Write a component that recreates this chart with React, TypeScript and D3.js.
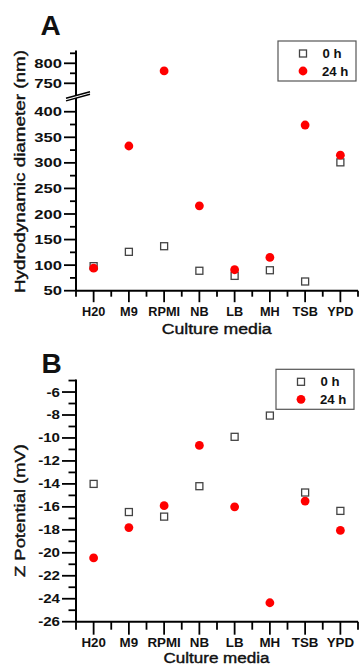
import React from "react";
import * as d3 from "d3";

const categories = ["H20", "M9", "RPMI", "NB", "LB", "MH", "TSB", "YPD"];
const diameter0h = [98, 126, 137, 89, 79, 90, 68, 301];
const diameter24h = [94, 333, 781, 216, 91, 115, 374, 315];
const zeta0h = [-14.0, -16.45, -16.85, -14.2, -9.9, -8.05, -14.75, -16.35];
const zeta24h = [-20.45, -17.8, -15.9, -10.65, -16.0, -24.35, -15.5, -18.05];
const diamLowTicks = [50, 100, 150, 200, 250, 300, 350, 400];
const diamLowMinor = [75, 125, 175, 225, 275, 325, 375];
const diamHighTicks = [750, 800];
const diamHighMinor = [775, 825];
const zetaTicks = [-26, -24, -22, -20, -18, -16, -14, -12, -10, -8, -6];
const zetaMinor = [-25, -23, -21, -19, -17, -15, -13, -11, -9, -7, -5];
const seriesLabels = ["0 h", "24 h"];

const FONT = "'Liberation Sans', Arial, Helvetica, sans-serif";
const RED = "#ff0000";
const SQ = "#444";

const x = d3.scaleBand<string>().domain(categories).range([76, 358]);
const xc = (c: string) => (x(c) as number) + x.bandwidth() / 2;
const edges = d3.range(categories.length + 1).map((i) => 76 + i * x.bandwidth());

const yLow = d3.scaleLinear().domain([50, 420]).range([290.7, 101.5]);
const yHigh = d3.scaleLinear().domain([730, 832]).range([91.3, 50.5]);
const yA = (v: number) => (v > 500 ? yHigh(v) : yLow(v));
const yB = d3.scaleLinear().domain([-26, -4.9]).range([621.7, 379.4]);

function Square({ cx, cy }: { cx: number; cy: number }) {
  return <rect x={cx - 3.5} y={cy - 3.5} width={7} height={7} fill="#fff" stroke={SQ} strokeWidth={1.3} />;
}
function Dot({ cx, cy }: { cx: number; cy: number }) {
  return <circle cx={cx} cy={cy} r={4.4} fill={RED} />;
}

function SText(props: {
  x: number; y: number; sx?: number; size: number; weight?: string | number;
  anchor?: string; children: React.ReactNode; rotate?: number; len?: number; heavy?: boolean;
}) {
  const { x: tx, y: ty, sx = 1, size, weight = "bold", anchor = "start", rotate = 0, len, heavy } = props;
  return (
    <text
      transform={`translate(${tx},${ty}) rotate(${rotate}) scale(${sx},1)`}
      fontFamily={FONT}
      fontSize={size}
      fontWeight={weight}
      textAnchor={anchor}
      fill="#111"
      stroke={heavy ? "#111" : undefined}
      strokeWidth={heavy ? 0.4 : undefined}
      textLength={len}
      lengthAdjust={len ? "spacingAndGlyphs" : undefined}
    >
      {props.children}
    </text>
  );
}

function XAxis({ y0, major, minor, labelY, labelSize }: { y0: number; major: number; minor: number; labelY: number; labelSize: number }) {
  return (
    <g>
      <line x1={76} x2={358} y1={y0} y2={y0} stroke="#000" strokeWidth={2} />
      {edges.map((e, i) => (
        <line key={"m" + i} x1={e} x2={e} y1={y0} y2={y0 + minor} stroke="#000" strokeWidth={1.8} />
      ))}
      {categories.map((c) => (
        <g key={c}>
          <line x1={xc(c)} x2={xc(c)} y1={y0} y2={y0 + major} stroke="#000" strokeWidth={1.8} />
          <SText x={xc(c)} y={labelY} size={labelSize} sx={1.06} anchor="middle">{c}</SText>
        </g>
      ))}
    </g>
  );
}

function Legend({ x0, y0 }: { x0: number; y0: number }) {
  return (
    <g>
      <rect x={x0} y={y0} width={78} height={40} fill="#fff" stroke="#555" strokeWidth={1.2} />
      <Square cx={x0 + 25} cy={y0 + 12.5} />
      <Dot cx={x0 + 25} cy={y0 + 30} />
      <SText x={x0 + 44.5} y={y0 + 17} size={12} sx={1.1}>{seriesLabels[0]}</SText>
      <SText x={x0 + 44} y={y0 + 34.5} size={12} sx={1.1}>{seriesLabels[1]}</SText>
    </g>
  );
}

export default function App() {
  return (
    <svg width={360} height={667} style={{ position: "absolute", left: 0, top: 0, background: "#fff" }}>
      <rect x={0} y={0} width={360} height={667} fill="#fff" />
      {/* Panel A */}
      <SText x={40.5} y={35} size={28}>A</SText>
      <line x1={76} x2={76} y1={50.5} y2={95} stroke="#000" strokeWidth={2} />
      <line x1={76} x2={76} y1={96} y2={290.7} stroke="#000" strokeWidth={2} />
      {diamHighTicks.map((t) => (
        <g key={"h" + t}>
          <line x1={64} x2={76} y1={yHigh(t)} y2={yHigh(t)} stroke="#000" strokeWidth={1.8} />
          <SText x={62} y={yHigh(t) + 4.6} size={13} sx={1.28} anchor="end">{t}</SText>
        </g>
      ))}
      {diamHighMinor.map((t) => (
        <line key={"hm" + t} x1={70} x2={76} y1={yHigh(t)} y2={yHigh(t)} stroke="#000" strokeWidth={1.8} />
      ))}
      {diamLowTicks.map((t) => (
        <g key={"l" + t}>
          <line x1={64} x2={76} y1={yLow(t)} y2={yLow(t)} stroke="#000" strokeWidth={1.8} />
          <SText x={62} y={yLow(t) + 4.6} size={13} sx={1.28} anchor="end">{t}</SText>
        </g>
      ))}
      {diamLowMinor.map((t) => (
        <line key={"lm" + t} x1={70} x2={76} y1={yLow(t)} y2={yLow(t)} stroke="#000" strokeWidth={1.8} />
      ))}
      <polygon points="66,98.3 90,91.7 90,94.3 66,100.9" fill="#fff" />
      <line x1={66} y1={98.3} x2={90} y2={91.7} stroke="#000" strokeWidth={1.5} />
      <line x1={66} y1={100.9} x2={90} y2={94.3} stroke="#000" strokeWidth={1.5} />
      <XAxis y0={290.7} major={11.5} minor={6} labelY={315.7} labelSize={12} />
      <SText x={25} y={171.5} size={15} weight="normal" anchor="middle" rotate={-90} len={243} heavy>
        Hydrodynamic diameter (nm)
      </SText>
      <SText x={216.7} y={334} size={15.5} weight="normal" anchor="middle" len={110} heavy>Culture media</SText>
      {categories.map((c, i) => (
        <Square key={"a0" + c} cx={xc(c)} cy={yA(diameter0h[i])} />
      ))}
      {categories.map((c, i) => (
        <Dot key={"a24" + c} cx={xc(c)} cy={yA(diameter24h[i])} />
      ))}
      <Legend x0={278} y0={41} />

      {/* Panel B */}
      <SText x={41.5} y={373.3} size={28}>B</SText>
      <line x1={76} x2={76} y1={379.4} y2={621.7} stroke="#000" strokeWidth={2} />
      {zetaTicks.map((t) => (
        <g key={"z" + t}>
          <line x1={62} x2={76} y1={yB(t)} y2={yB(t)} stroke="#000" strokeWidth={1.8} />
          <SText x={60} y={yB(t) + 4.5} size={12.6} sx={1.2} anchor="end">{t}</SText>
        </g>
      ))}
      {zetaMinor.map((t) => (
        <line key={"zm" + t} x1={68.5} x2={76} y1={yB(t)} y2={yB(t)} stroke="#000" strokeWidth={1.8} />
      ))}
      <XAxis y0={621.7} major={13} minor={8} labelY={647.3} labelSize={12.6} />
      <SText x={25} y={510.5} size={15} weight="normal" anchor="middle" rotate={-90} len={133} heavy>
        Z Potential (mV)
      </SText>
      <SText x={216.5} y={662.5} size={14} weight="normal" anchor="middle" len={106} heavy>Culture media</SText>
      {categories.map((c, i) => (
        <Square key={"b0" + c} cx={xc(c)} cy={yB(zeta0h[i])} />
      ))}
      {categories.map((c, i) => (
        <Dot key={"b24" + c} cx={xc(c)} cy={yB(zeta24h[i])} />
      ))}
      <Legend x0={276} y0={369.3} />
    </svg>
  );
}
